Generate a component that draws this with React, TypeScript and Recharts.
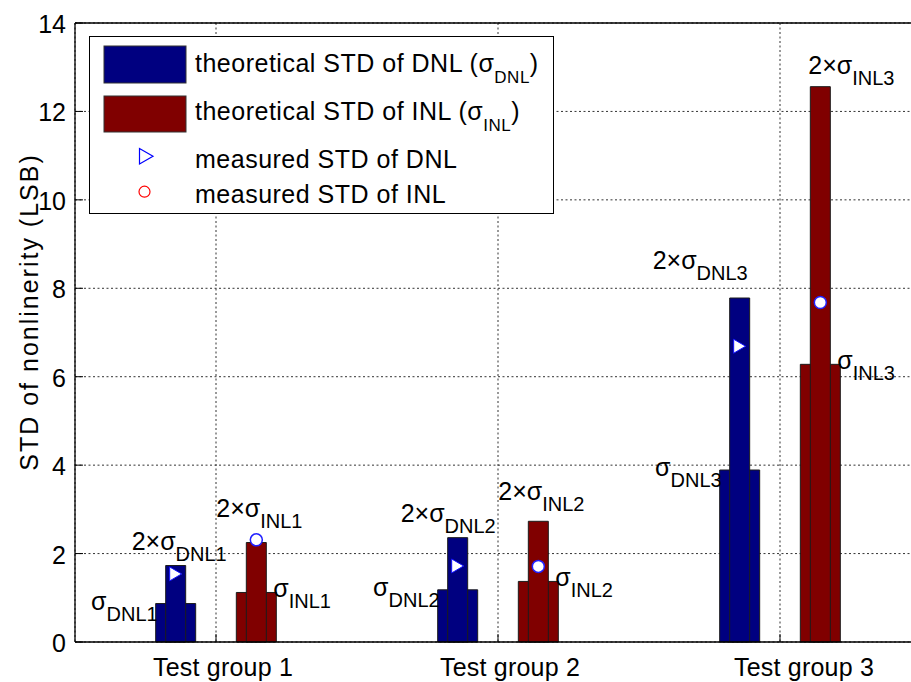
import React from 'react';
import {
  ComposedChart,
  Bar,
  Scatter,
  XAxis,
  YAxis,
  CartesianGrid,
  ReferenceLine,
  LabelList,
  Legend,
} from 'recharts';

// ---- data -------------------------------------------------------------
const groups = ['Test group 1', 'Test group 2', 'Test group 3'];
const sigmaDNL = [0.87, 1.18, 3.89];
const twoSigmaDNL = [1.73, 2.36, 7.78];
const sigmaINL = [1.12, 1.37, 6.28];
const twoSigmaINL = [2.25, 2.73, 12.56];
const measuredDNL = [1.54, 1.72, 6.69];
const measuredINL = [2.31, 1.71, 7.68];
const dnlNames = ['DNL1', 'DNL2', 'DNL3'];
const inlNames = ['INL1', 'INL2', 'INL3'];
const yTicks = [0, 2, 4, 6, 8, 10, 12, 14];
const xTicks = [1, 2, 3];

// DNL bars sit left of each group position, INL bars right of it
const PAIR_OFFSET = 0.143;

const rows = groups.map((name, i) => ({
  name,
  pos: i + 1,
  xDNL: i + 1 - PAIR_OFFSET,
  xINL: i + 1 + PAIR_OFFSET,
  sigmaDNL: sigmaDNL[i],
  twoSigmaDNL: twoSigmaDNL[i],
  sigmaINL: sigmaINL[i],
  twoSigmaINL: twoSigmaINL[i],
  measuredDNL: measuredDNL[i],
  measuredINL: measuredINL[i],
}));

// ---- styling ----------------------------------------------------------
const FONT = '"Liberation Sans", Arial, Helvetica, sans-serif';
const NAVY = '#000080';
const MAROON = '#800000';
const EDGE = '#1c1c1c';
const MAIN_SIZE = 25;
const SUB_SIZE = 20;
const SUB_SHIFT = 11;

// nudges for the 2x sigma annotations (pixels, relative to bar centre / top)
const dnl2Nudge = [
  { dx: -44, dy: -16 },
  { dx: -57, dy: -16 },
  { dx: -87, dy: -29 },
];
const inl2Nudge = [
  { dx: -40, dy: -26 },
  { dx: -40, dy: -21 },
  { dx: -12, dy: -13 },
];
const xLabelNudge = [7, 12, 24];

const boxOf = (p: any) => {
  const vb = p.viewBox && typeof p.viewBox.x === 'number' ? p.viewBox : p;
  const h = vb.height ?? 0;
  return {
    x: vb.x as number,
    top: Math.min(vb.y, vb.y + h) as number,
    w: vb.width as number,
  };
};

const SigmaText = ({
  x,
  y,
  twice,
  sub,
  anchor,
}: {
  x: number;
  y: number;
  twice: boolean;
  sub: string;
  anchor: 'start' | 'end';
}) => (
  <text x={x} y={y} textAnchor={anchor} fontFamily={FONT} fontSize={MAIN_SIZE} fill="#000">
    {twice ? '2×σ' : 'σ'}
    <tspan dy={SUB_SHIFT} fontSize={SUB_SIZE}>
      {sub}
    </tspan>
  </text>
);

const renderSigmaDNL = (p: any) => {
  const b = boxOf(p);
  const i = p.index ?? 0;
  return <SigmaText x={b.x + 2} y={b.top + 6} twice={false} sub={dnlNames[i]} anchor="end" />;
};
const renderSigmaINL = (p: any) => {
  const b = boxOf(p);
  const i = p.index ?? 0;
  return <SigmaText x={b.x + b.w - 3} y={b.top + 5} twice={false} sub={inlNames[i]} anchor="start" />;
};
const renderTwoSigmaDNL = (p: any) => {
  const b = boxOf(p);
  const i = p.index ?? 0;
  const n = dnl2Nudge[i];
  return (
    <SigmaText x={b.x + b.w / 2 + n.dx} y={b.top + n.dy} twice sub={dnlNames[i]} anchor="start" />
  );
};
const renderTwoSigmaINL = (p: any) => {
  const b = boxOf(p);
  const i = p.index ?? 0;
  const n = inl2Nudge[i];
  return (
    <SigmaText x={b.x + b.w / 2 + n.dx} y={b.top + n.dy} twice sub={inlNames[i]} anchor="start" />
  );
};

// ---- axis ticks (drawn inward, MATLAB style) ---------------------------
const YTick = (props: any) => {
  const { x, y, payload } = props;
  return (
    <g>
      <line x1={x + 9} x2={x + 17} y1={y} y2={y} stroke="#000" strokeWidth={1} />
      <text x={x} y={y + 10} textAnchor="end" fontFamily={FONT} fontSize={MAIN_SIZE} fill="#000">
        {payload.value}
      </text>
    </g>
  );
};

const XTick = (props: any) => {
  const { x, y, payload } = props;
  const i = Math.round(payload.value) - 1;
  return (
    <g>
      <line x1={x} x2={x} y1={y} y2={y - 8} stroke="#000" strokeWidth={1} />
      <text
        x={x + (xLabelNudge[i] ?? 0)}
        y={y + 34}
        textAnchor="middle"
        fontFamily={FONT}
        fontSize={MAIN_SIZE}
        letterSpacing={0.2}
        fill="#000"
      >
        {groups[i]}
      </text>
    </g>
  );
};

// ---- markers ------------------------------------------------------------
const TriangleMark = (props: any) => {
  const { cx, cy } = props;
  if (typeof cx !== 'number' || typeof cy !== 'number') return <g />;
  return (
    <polygon
      points={`${cx - 6},${cy - 7} ${cx - 6},${cy + 7} ${cx + 6},${cy}`}
      fill="#ffffff"
      stroke="#1010ff"
      strokeWidth={1}
    />
  );
};

const CircleMark = (props: any) => {
  const { cx, cy } = props;
  if (typeof cx !== 'number' || typeof cy !== 'number') return <g />;
  return <circle cx={cx} cy={cy} r={6} fill="#ffffff" stroke="#2020ff" strokeWidth={1.5} />;
};

// ---- legend ---------------------------------------------------------------
const legendText = (y: number, body: React.ReactNode) => (
  <text x={106} y={y} fontFamily={FONT} fontSize={MAIN_SIZE} letterSpacing={0.5} fill="#000">
    {body}
  </text>
);

const LegendBox = () => (
  <svg width={466} height={179} style={{ display: 'block' }}>
    <rect x={0.5} y={0.5} width={464} height={177} fill="#ffffff" stroke="#000" strokeWidth={1} />
    <rect x={15} y={10} width={82} height={37} fill={NAVY} stroke="#333" strokeWidth={1} />
    <rect x={15} y={60} width={82} height={36} fill={MAROON} stroke="#333" strokeWidth={1} />
    <polygon points="50.5,112.5 50.5,128 64,120.2" fill="none" stroke="#0000ff" strokeWidth={1.2} />
    <circle cx={55.5} cy={155.7} r={5.5} fill="none" stroke="#ff0000" strokeWidth={1.2} />
    {legendText(
      36,
      <>
        theoretical STD of DNL (σ
        <tspan dy={SUB_SHIFT} fontSize={17}>
          DNL
        </tspan>
        <tspan dy={-SUB_SHIFT}>)</tspan>
      </>
    )}
    {legendText(
      84,
      <>
        theoretical STD of INL (σ
        <tspan dy={SUB_SHIFT} fontSize={17}>
          INL
        </tspan>
        <tspan dy={-SUB_SHIFT}>)</tspan>
      </>
    )}
    {legendText(131.7, 'measured STD of DNL')}
    {legendText(166.7, 'measured STD of INL')}
  </svg>
);

// ---- chart ------------------------------------------------------------
export default function App() {
  return (
    <div
      style={{
        position: 'fixed',
        left: 0,
        top: 0,
        width: 911,
        height: 682,
        overflow: 'hidden',
        background: '#ffffff',
      }}
    >
      <ComposedChart
        width={940}
        height={682}
        data={rows}
        margin={{ top: 23, right: 19, bottom: 0, left: 0 }}
      >
        <CartesianGrid xAxisId="main" stroke="#333" strokeDasharray="2 2.5" strokeWidth={1} />

        <XAxis
          xAxisId="main"
          dataKey="pos"
          type="number"
          domain={[0.5, 3.5]}
          ticks={xTicks}
          allowDataOverflow
          height={40}
          tickSize={0}
          tickMargin={0}
          tickLine={false}
          axisLine={{ stroke: '#000', strokeWidth: 1.3 }}
          tick={<XTick />}
          interval={0}
        />
        {/* helper axes that only position the paired bars; they take no space */}
        {['dnlWide', 'dnlNarrow'].map((id) => (
          <XAxis
            key={id}
            xAxisId={id}
            dataKey="xDNL"
            type="number"
            domain={[0.5, 3.5]}
            allowDataOverflow
            orientation="top"
            height={0}
            hide
          />
        ))}
        {['inlWide', 'inlNarrow'].map((id) => (
          <XAxis
            key={id}
            xAxisId={id}
            dataKey="xINL"
            type="number"
            domain={[0.5, 3.5]}
            allowDataOverflow
            orientation="top"
            height={0}
            hide
          />
        ))}

        <YAxis
          type="number"
          domain={[0, 14]}
          ticks={yTicks}
          width={75}
          tickSize={0}
          tickMargin={9}
          tickLine={false}
          interval={0}
          axisLine={{ stroke: '#000', strokeWidth: 1.3 }}
          tick={<YTick />}
          label={{
            value: 'STD of nonlinerity (LSB)',
            content: () => (
              <text
                transform="translate(38,312) rotate(-90)"
                textAnchor="middle"
                fontFamily={FONT}
                fontSize={MAIN_SIZE}
                letterSpacing={2}
                fill="#000"
              >
                STD of nonlinerity (LSB)
              </text>
            ),
          }}
        />

        <ReferenceLine xAxisId="main" y={14} stroke="#000" strokeWidth={1.3} />
        <ReferenceLine xAxisId="main" x={3.5} stroke="#000" strokeWidth={1.3} />

        <Bar
          xAxisId="dnlWide"
          dataKey="sigmaDNL"
          barSize={40}
          fill={NAVY}
          stroke={EDGE}
          strokeWidth={1}
          legendType="none"
          isAnimationActive={false}
        >
          <LabelList dataKey="sigmaDNL" content={renderSigmaDNL} />
        </Bar>
        <Bar
          xAxisId="dnlNarrow"
          dataKey="twoSigmaDNL"
          barSize={20}
          fill={NAVY}
          stroke={EDGE}
          strokeWidth={1}
          legendType="none"
          isAnimationActive={false}
        >
          <LabelList dataKey="twoSigmaDNL" content={renderTwoSigmaDNL} />
        </Bar>
        <Bar
          xAxisId="inlWide"
          dataKey="sigmaINL"
          barSize={40}
          fill={MAROON}
          stroke={EDGE}
          strokeWidth={1}
          legendType="none"
          isAnimationActive={false}
        >
          <LabelList dataKey="sigmaINL" content={renderSigmaINL} />
        </Bar>
        <Bar
          xAxisId="inlNarrow"
          dataKey="twoSigmaINL"
          barSize={20}
          fill={MAROON}
          stroke={EDGE}
          strokeWidth={1}
          legendType="none"
          isAnimationActive={false}
        >
          <LabelList dataKey="twoSigmaINL" content={renderTwoSigmaINL} />
        </Bar>

        <Scatter
          xAxisId="dnlNarrow"
          dataKey="measuredDNL"
          shape={TriangleMark}
          legendType="none"
          isAnimationActive={false}
        />
        <Scatter
          xAxisId="inlNarrow"
          dataKey="measuredINL"
          shape={CircleMark}
          legendType="none"
          isAnimationActive={false}
        />

        <Legend
          layout="horizontal"
          verticalAlign="middle"
          align="center"
          content={() => <LegendBox />}
          wrapperStyle={{ position: 'absolute', left: 89, top: 36, width: 466, height: 179 }}
        />
      </ComposedChart>
    </div>
  );
}
